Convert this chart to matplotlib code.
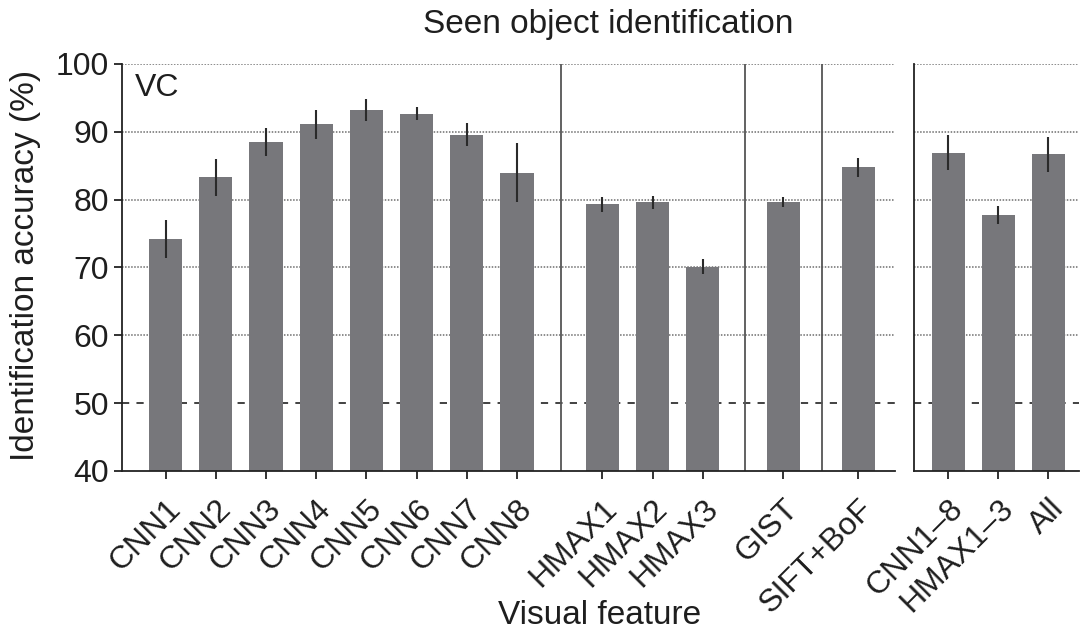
import matplotlib
matplotlib.use("Agg")
import matplotlib.pyplot as plt
import numpy as np

plt.rcParams['font.family'] = ['Liberation Sans', 'DejaVu Sans']

# Identification accuracy (%) with error bars, per visual feature
single_labels = ["CNN1", "CNN2", "CNN3", "CNN4", "CNN5", "CNN6", "CNN7", "CNN8",
                 "HMAX1", "HMAX2", "HMAX3", "GIST", "SIFT+BoF"]
single_acc = [74.2, 83.3, 88.5, 91.1, 93.2, 92.7, 89.6, 84.0,
              79.3, 79.6, 70.1, 79.6, 84.8]
single_err = [2.8, 2.7, 2.1, 2.1, 1.6, 1.0, 1.7, 4.3,
              1.1, 1.0, 1.1, 0.75, 1.4]

combo_labels = ["CNN1\u20138", "HMAX1\u20133", "All"]
combo_acc = [86.9, 77.7, 86.7]
combo_err = [2.6, 1.3, 2.6]

yticks = [40, 50, 60, 70, 80, 90, 100]
chance_level = 50

BAR_COLOR = "#77777b"
ERR_COLOR = "#2a2a2a"
TEXT_COLOR = "#1e1e1e"
FS_TICK = 23
FS_LABEL = 24

# bar positions for the single-feature panel: CNN block, HMAX block, GIST, SIFT
pos_single = np.concatenate([np.arange(8), 8.7 + np.arange(3), [12.3, 13.8]])
separators = [7.87, 11.54, 13.07]
pos_combo = np.arange(3)

W, H = 1081, 632
fig = plt.figure(figsize=(W / 100, H / 100), dpi=100)
ax1 = fig.add_axes([122 / W, 1 - 471 / H, (895 - 122) / W, (471 - 64) / H])
ax2 = fig.add_axes([914 / W, 1 - 471 / H, (1079 - 914) / W, (471 - 64) / H])


def style(ax, show_y):
    ax.set_ylim(40, 100)
    for s in ("top", "right"):
        ax.spines[s].set_visible(False)
    for s in ("left", "bottom"):
        ax.spines[s].set_linewidth(1.3)
        ax.spines[s].set_color("#222222")
    for g in (60, 70, 80, 90, 100):
        ax.axhline(g, color="#6e6e6e", lw=1.1, ls=(0, (1.0, 1.0)), zorder=0)
    ax.axhline(chance_level, color="#333333", lw=1.3, ls=(0, (4, 4)), zorder=0)
    ax.tick_params(axis="x", direction="out", length=5.5, width=1.3,
                   color="#222222", pad=11, labelsize=FS_TICK,
                   labelcolor=TEXT_COLOR)
    if show_y:
        ax.set_yticks(yticks)
        ax.tick_params(axis="y", direction="out", length=5.5, width=1.3,
                       color="#222222", pad=4, labelsize=FS_TICK,
                       labelcolor=TEXT_COLOR)
    else:
        ax.set_yticks([])


style(ax1, True)
style(ax2, False)

ax1.bar(pos_single, single_acc, width=0.66, color=BAR_COLOR, zorder=2)
ax1.errorbar(pos_single, single_acc, yerr=single_err, fmt="none",
             ecolor=ERR_COLOR, elinewidth=1.5, capsize=0, zorder=3)
for x in separators:
    ax1.axvline(x, color="#555555", lw=1.3, zorder=1)
ax1.set_xlim(-0.87, 14.53)
ax1.set_xticks(pos_single)
ax1.set_xticklabels(single_labels, rotation=45, ha="right",
                    rotation_mode="anchor")

ax2.bar(pos_combo, combo_acc, width=0.66, color=BAR_COLOR, zorder=2)
ax2.errorbar(pos_combo, combo_acc, yerr=combo_err, fmt="none",
             ecolor=ERR_COLOR, elinewidth=1.5, capsize=0, zorder=3)
ax2.set_xlim(-0.68, 2.61)
ax2.set_xticks(pos_combo)
ax2.set_xticklabels(combo_labels, rotation=45, ha="right",
                    rotation_mode="anchor")

ax1.text(0.016, 0.978, "VC", transform=ax1.transAxes, fontsize=FS_TICK,
         ha="left", va="top", color=TEXT_COLOR)

fig.text(608 / W, 1 - 25 / H, "Seen object identification", fontsize=FS_LABEL,
         ha="center", va="center", color=TEXT_COLOR)
fig.text(600 / W, 1 - 615 / H, "Visual feature", fontsize=FS_LABEL,
         ha="center", va="center", color=TEXT_COLOR)
fig.text(26 / W, 1 - 265 / H, "Identification accuracy (%)", fontsize=FS_LABEL,
         rotation=90, ha="center", va="center", color=TEXT_COLOR)

fig.savefig("out.png", dpi=100, facecolor="white")
